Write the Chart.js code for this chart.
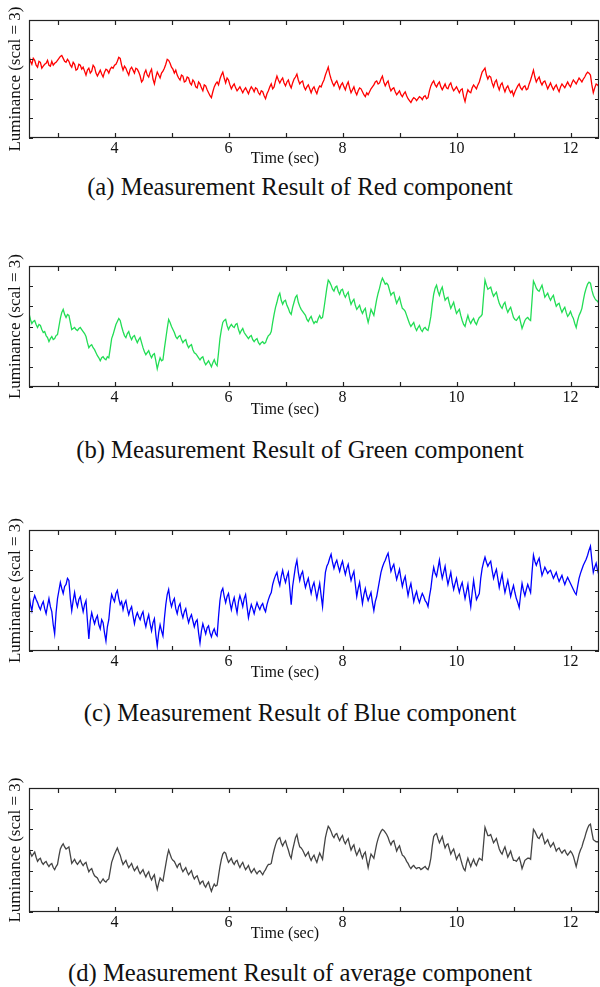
<!DOCTYPE html>
<html>
<head>
<meta charset="utf-8">
<script src="https://cdn.jsdelivr.net/npm/chart.js@4.4.1/dist/chart.umd.min.js"></script>
<style>
  html, body { margin: 0; padding: 0; background: #fff; }
  #page { position: relative; width: 600px; height: 987px; overflow: hidden; }
  canvas { position: absolute; left: 0; }
  .caption {
    position: absolute; left: 0; width: 600px; text-align: center;
    font-family: "Liberation Serif", "DejaVu Serif", serif; font-size: 24.7px;
    line-height: 28px; color: #111; white-space: nowrap;
  }
  .xtitle {
    position: absolute; left: 185px; width: 200px; text-align: center;
    font-family: "Liberation Serif", "DejaVu Serif", serif; font-size: 16px;
    line-height: 20px; color: #111;
  }
</style>
</head>
<body>
<div id="page"></div>
<script>
// time axis: 2.5 s .. 12.5 s, one sample every 0.025 s
const tStart = 2.5;
const tStep = 0.025;
const xTickValues = [3, 4, 5, 6, 7, 8, 9, 10, 11, 12];
const yTickValues = [0, 1, 2, 3, 4, 5, 6];

// luminance (axis units 0..6), one row = 0.5 s
const red = [4.2,
  3.9, 3.75, 4.05, 3.95, 3.7, 3.6, 3.9, 3.85, 3.55, 3.65, 3.75, 3.8, 3.95, 3.7, 3.65, 3.9, 3.7, 3.8, 3.85, 3.95,
  4.05, 4.15, 4.2, 4.05, 3.9, 3.85, 4.0, 3.9, 3.7, 3.6, 3.85, 3.75, 3.45, 3.5, 3.75, 3.7, 3.5, 3.6, 3.4, 3.2,
  3.45, 3.55, 3.3, 3.4, 3.7, 3.6, 3.3, 3.15, 3.3, 3.45, 3.25, 3.1, 3.35, 3.5, 3.45, 3.3, 3.5, 3.6, 3.55, 3.7,
  3.75, 3.9, 4.1, 4.05, 3.7, 3.45, 3.65, 3.55, 3.35, 3.2, 3.5, 3.6, 3.45, 3.3, 3.55, 3.5, 3.35, 3.15, 2.85, 2.95,
  3.3, 3.45, 3.2, 3.1, 3.35, 3.5, 3.0, 2.75, 3.1, 3.35, 3.2, 3.05, 3.3, 3.4, 3.55, 3.75, 4.0, 3.95, 3.8, 3.6,
  3.5, 3.3, 3.45, 3.2, 3.05, 2.95, 3.2, 3.15, 2.85, 2.9, 3.1, 3.05, 2.8, 2.7, 2.95, 2.85, 2.6, 2.55, 2.85, 2.75,
  2.55, 2.4, 2.7, 2.65, 2.45, 2.3, 2.15, 2.05, 2.35, 2.6, 2.75, 2.85, 2.7, 3.0, 3.2, 3.35, 3.05, 2.8, 3.05, 2.95,
  2.7, 2.5, 2.65, 2.75, 2.55, 2.4, 2.5, 2.6, 2.45, 2.3, 2.45, 2.55, 2.4, 2.25, 2.45, 2.6, 2.5, 2.35, 2.55, 2.5,
  2.3, 2.2, 2.4, 2.35, 2.15, 2.0, 2.25, 2.4, 2.6, 2.75, 2.5, 2.6, 2.9, 3.15, 2.95, 2.8, 2.95, 3.05, 2.8, 2.65,
  2.85, 2.95, 2.7, 2.55, 2.8, 3.0, 3.1, 3.25, 2.95, 2.75, 2.85, 2.9, 2.6, 2.45, 2.6, 2.7, 2.5, 2.3, 2.5, 2.6,
  2.4, 2.25, 2.5, 2.65, 2.6, 2.8, 2.95, 3.2, 3.4, 3.6, 3.25, 3.0, 2.8, 2.65, 2.8, 2.9, 2.7, 2.5, 2.7, 2.8,
  2.6, 2.45, 2.7, 2.85, 2.55, 2.3, 2.45, 2.6, 2.35, 2.2, 2.4, 2.55, 2.5, 2.35, 2.2, 2.1, 2.3, 2.2, 2.35, 2.5,
  2.6, 2.7, 2.85, 2.9, 2.75, 2.8, 3.0, 3.15, 2.85, 2.65, 2.8, 2.9, 2.6, 2.4, 2.5, 2.55, 2.35, 2.2, 2.3, 2.4,
  2.2, 2.1, 2.25, 2.35, 2.15, 2.0, 1.9, 1.8, 1.95, 2.05, 2.0, 1.9, 2.0, 2.1, 2.05, 1.95, 2.1, 2.15, 2.0, 2.05,
  2.4, 2.65, 2.8, 2.9, 2.7, 2.6, 2.75, 2.85, 2.6, 2.45, 2.6, 2.75, 2.55, 2.5, 2.7, 2.8, 2.55, 2.4, 2.5, 2.6,
  2.45, 2.3, 2.45, 2.5, 2.1, 1.85, 2.2, 2.45, 2.35, 2.3, 2.55, 2.7, 2.6, 2.5, 2.7, 2.85, 3.1, 3.35, 3.45, 3.55,
  3.2, 3.0, 3.15, 3.1, 2.8, 2.6, 2.85, 2.95, 2.65, 2.45, 2.7, 2.8, 2.55, 2.35, 2.55, 2.65, 2.45, 2.3, 2.4, 2.15,
  2.35, 2.5, 2.65, 2.75, 2.55, 2.45, 2.6, 2.65, 2.45, 2.5, 2.75, 2.95, 3.2, 3.45, 3.1, 2.85, 3.0, 3.1, 2.85, 2.7,
  2.85, 2.9, 2.7, 2.5, 2.65, 2.8, 2.6, 2.45, 2.6, 2.7, 2.5, 2.35, 2.6, 2.75, 2.65, 2.55, 2.7, 2.85, 2.7, 2.6,
  2.8, 2.95, 2.85, 2.75, 2.9, 3.05, 2.95, 2.85, 3.0, 3.1, 3.25, 3.35, 3.3, 3.2, 2.7, 2.3, 2.55, 2.75, 2.7, 2.6];

const green = [3.65,
  3.35, 3.15, 3.25, 3.3, 3.1, 2.95, 3.1, 3.05, 2.85, 2.7, 2.75, 2.55, 2.45, 2.25, 2.4, 2.5, 2.35, 2.4, 2.55, 2.6,
  3.0, 3.4, 3.7, 3.85, 3.6, 3.45, 3.6, 3.55, 3.2, 2.85, 2.9, 2.95, 2.85, 2.8, 2.9, 2.95, 2.85, 2.75, 2.65, 2.5,
  2.2, 1.95, 2.05, 2.1, 1.95, 1.85, 1.7, 1.55, 1.45, 1.3, 1.45, 1.5, 1.4, 1.35, 1.5, 1.45, 1.9, 2.4, 2.6, 2.85,
  3.1, 3.25, 3.4, 3.3, 3.0, 2.75, 2.55, 2.45, 2.65, 2.75, 2.5, 2.35, 2.5, 2.55, 2.35, 2.2, 2.35, 2.45, 2.2, 1.95,
  1.75, 1.6, 1.7, 1.8, 1.6, 1.45, 1.6, 1.65, 1.3, 0.9, 1.2, 1.45, 1.3, 1.35, 1.9, 2.4, 2.9, 3.35, 3.2, 3.0,
  2.85, 2.7, 2.5, 2.4, 2.5, 2.55, 2.35, 2.2, 2.3, 2.35, 2.1, 1.95, 2.05, 2.1, 1.85, 1.7, 1.65, 1.55, 1.45, 1.35,
  1.45, 1.5, 1.25, 1.1, 1.2, 1.3, 1.15, 1.0, 1.2, 1.35, 1.15, 1.05, 1.7, 2.4, 2.85, 3.2, 3.3, 3.35, 3.05, 2.85,
  3.0, 3.1, 3.0, 2.95, 3.1, 3.15, 2.85, 2.65, 2.8, 2.9, 2.7, 2.6, 2.5, 2.4, 2.5, 2.55, 2.35, 2.25, 2.35, 2.4,
  2.2, 2.1, 2.2, 2.25, 2.15, 2.2, 2.4, 2.55, 2.6, 2.75, 3.2, 3.6, 3.95, 4.2, 4.5, 4.65, 4.3, 4.1, 4.25, 4.3,
  4.05, 3.9, 3.7, 3.6, 3.95, 4.2, 4.45, 4.55, 4.2, 4.0, 3.85, 3.75, 3.65, 3.55, 3.35, 3.25, 3.4, 3.5, 3.3, 3.15,
  3.25, 3.2, 3.4, 3.55, 3.4, 3.45, 3.9, 4.4, 4.9, 5.3, 5.2, 5.05, 4.85, 4.75, 4.95, 5.0, 4.75, 4.6, 4.8, 4.85,
  4.6, 4.45, 4.6, 4.7, 4.35, 4.1, 4.25, 4.35, 4.05, 3.85, 3.95, 4.05, 3.8, 3.65, 3.8, 3.9, 3.5, 3.2, 3.5, 3.85,
  3.7, 3.55, 3.95, 4.35, 4.65, 4.9, 5.2, 5.4, 5.25, 5.1, 5.15, 5.05, 4.8, 4.55, 4.65, 4.7, 4.4, 4.15, 4.3, 4.45,
  4.15, 3.9, 3.85, 3.75, 3.55, 3.35, 3.15, 3.0, 3.1, 3.2, 2.95, 2.8, 2.95, 3.05, 2.85, 2.75, 2.9, 2.95, 2.85, 2.8,
  3.1, 3.5, 4.1, 4.6, 4.9, 5.05, 4.75, 4.55, 4.8, 4.95, 4.6, 4.3, 4.4, 4.45, 4.15, 3.9, 4.05, 4.2, 3.9, 3.65,
  3.75, 3.85, 3.55, 3.3, 3.1, 3.0, 3.3, 3.55, 3.3, 3.15, 3.3, 3.4, 3.2, 3.1, 3.3, 3.45, 3.5, 3.6, 4.5, 5.3,
  5.05, 4.85, 4.9, 4.95, 4.7, 4.5, 4.6, 4.7, 4.4, 4.15, 4.0, 3.9, 4.1, 4.2, 3.9, 3.7, 3.85, 3.95, 3.7, 3.45,
  3.35, 3.3, 3.4, 3.5, 3.2, 2.9, 3.1, 3.3, 3.4, 3.45, 3.35, 3.3, 4.3, 5.25, 5.1, 4.9, 4.8, 4.75, 4.9, 5.05,
  4.75, 4.45, 4.55, 4.65, 4.45, 4.3, 4.45, 4.55, 4.25, 4.0, 4.1, 4.15, 3.9, 3.7, 3.85, 3.95, 3.7, 3.5, 3.6, 3.75,
  3.55, 3.4, 3.15, 2.95, 3.3, 3.55, 3.7, 3.9, 4.3, 4.65, 4.9, 5.1, 5.2, 5.15, 4.8, 4.55, 4.4, 4.3, 4.25, 4.15];

const blue = [2.8,
  2.3, 2.0, 2.5, 2.75, 2.55, 2.4, 2.2, 2.05, 2.3, 2.45, 2.1, 1.85, 2.25, 2.6, 2.2, 1.95, 1.3, 0.85, 1.9, 2.6,
  3.0, 3.4, 3.1, 2.85, 3.2, 3.3, 3.6, 3.5, 2.6, 2.0, 2.5, 2.9, 2.45, 2.2, 2.55, 2.7, 2.3, 1.95, 2.3, 2.5,
  1.5, 0.6, 1.5, 1.9, 1.6, 1.35, 1.6, 1.75, 1.3, 1.1, 1.55, 1.4, 0.9, 0.5, 1.2, 1.55, 2.3, 2.8, 2.6, 2.45,
  2.85, 3.0, 2.6, 2.3, 2.45, 2.05, 2.35, 2.5, 2.1, 1.8, 2.05, 2.2, 1.75, 1.35, 1.7, 1.9, 1.7, 1.55, 1.8, 1.95,
  1.5, 1.2, 1.55, 1.8, 1.35, 1.0, 1.4, 1.6, 0.8, 0.25, 0.9, 1.3, 1.0, 0.75, 1.6, 2.3, 2.8, 3.05, 2.5, 2.2,
  2.45, 2.6, 2.1, 1.85, 2.2, 2.35, 1.9, 1.65, 1.95, 2.1, 1.7, 1.4, 1.65, 1.8, 1.5, 1.2, 1.45, 1.55, 0.9, 0.4,
  1.0, 1.35, 1.1, 0.85, 1.15, 1.25, 0.9, 0.7, 0.95, 1.1, 0.85, 0.75, 1.7, 2.5, 2.95, 3.1, 2.7, 2.4, 2.7, 2.85,
  2.4, 2.05, 2.4, 2.65, 2.25, 1.9, 2.45, 2.75, 2.5, 2.2, 2.6, 2.8, 2.2, 1.65, 2.0, 2.3, 2.1, 1.85, 2.15, 2.4,
  2.2, 2.05, 2.25, 2.35, 2.1, 1.95, 2.3, 2.55, 2.75, 2.9, 3.3, 3.55, 3.75, 3.9, 3.5, 3.25, 3.7, 4.0, 3.65, 3.4,
  3.7, 3.9, 3.1, 2.3, 3.2, 3.7, 4.2, 4.5, 3.9, 3.5, 3.8, 3.95, 3.5, 3.15, 3.4, 3.6, 3.2, 2.85, 3.2, 3.4,
  3.0, 2.6, 3.0, 3.35, 2.75, 2.2, 3.1, 3.9, 4.2, 4.35, 4.6, 4.8, 4.4, 4.1, 4.35, 4.5, 4.2, 3.95, 4.25, 4.45,
  4.1, 3.8, 4.1, 4.3, 3.85, 3.5, 3.75, 3.95, 3.3, 2.7, 3.1, 3.4, 2.85, 2.35, 2.8, 3.1, 2.75, 2.5, 2.7, 2.9,
  2.4, 2.0, 2.45, 2.7, 3.1, 3.5, 3.9, 4.15, 4.35, 4.5, 4.7, 4.85, 4.4, 3.95, 4.15, 4.3, 3.9, 3.55, 3.8, 4.05,
  3.6, 3.2, 3.5, 3.7, 3.2, 2.75, 3.1, 3.35, 2.9, 2.45, 2.75, 2.95, 2.6, 2.4, 2.65, 2.85, 2.7, 2.5, 2.4, 2.2,
  2.7, 3.1, 3.7, 4.15, 3.85, 3.7, 4.1, 4.5, 4.0, 3.6, 3.9, 4.2, 3.7, 3.3, 3.6, 3.9, 3.4, 3.05, 3.35, 3.6,
  3.2, 2.9, 3.2, 3.4, 3.0, 2.6, 2.95, 3.3, 2.7, 2.2, 2.9, 3.5, 3.0, 2.55, 2.7, 2.85, 3.6, 4.1, 4.4, 4.65,
  4.4, 4.2, 4.35, 4.45, 4.0, 3.6, 3.85, 4.05, 3.6, 3.15, 3.5, 3.8, 3.3, 2.9, 3.2, 3.5, 3.1, 2.7, 3.0, 3.25,
  2.9, 2.6, 2.4, 2.15, 2.8, 3.35, 3.0, 2.75, 3.05, 3.3, 3.1, 2.9, 3.9, 4.75, 4.45, 4.25, 4.45, 4.6, 4.15, 3.75,
  3.95, 4.15, 4.0, 3.85, 3.95, 4.0, 3.8, 3.6, 3.75, 3.9, 3.65, 3.45, 3.6, 3.75, 3.5, 3.3, 3.5, 3.65, 3.5, 3.35,
  3.2, 3.05, 2.9, 2.8, 3.2, 3.6, 3.85, 4.05, 4.25, 4.4, 4.55, 4.75, 5.0, 5.2, 4.5, 3.9, 4.15, 4.35, 4.0, 3.75];

const average = [3.1,
  2.85, 2.7, 2.8, 2.9, 2.65, 2.45, 2.55, 2.6, 2.4, 2.3, 2.4, 2.45, 2.3, 2.2, 2.3, 2.35, 2.15, 2.05, 2.2, 2.3,
  2.7, 3.05, 3.2, 3.3, 3.15, 3.05, 3.1, 3.15, 2.75, 2.35, 2.45, 2.55, 2.4, 2.3, 2.4, 2.5, 2.35, 2.25, 2.35, 2.4,
  2.15, 1.95, 2.05, 2.1, 1.9, 1.75, 1.7, 1.65, 1.5, 1.4, 1.5, 1.6, 1.5, 1.45, 1.55, 1.6, 2.0, 2.4, 2.6, 2.8,
  2.95, 3.1, 2.9, 2.75, 2.5, 2.3, 2.4, 2.5, 2.3, 2.15, 2.25, 2.35, 2.15, 2.0, 2.1, 2.2, 2.0, 1.85, 1.95, 2.05,
  1.85, 1.7, 1.85, 1.95, 1.7, 1.55, 1.7, 1.8, 1.4, 1.1, 1.4, 1.65, 1.55, 1.5, 1.9, 2.3, 2.7, 3.0, 2.8, 2.6,
  2.5, 2.45, 2.3, 2.15, 2.3, 2.35, 2.1, 1.95, 2.05, 2.15, 1.95, 1.8, 1.9, 2.0, 1.75, 1.6, 1.7, 1.75, 1.55, 1.35,
  1.45, 1.5, 1.3, 1.2, 1.35, 1.45, 1.2, 1.0, 1.2, 1.35, 1.25, 1.3, 1.75, 2.2, 2.55, 2.8, 2.9, 2.85, 2.6, 2.4,
  2.5, 2.6, 2.4, 2.3, 2.45, 2.5, 2.3, 2.15, 2.3, 2.4, 2.2, 2.05, 2.15, 2.25, 2.05, 1.9, 2.0, 2.1, 1.95, 1.85,
  1.95, 2.0, 1.9, 1.8, 1.95, 2.05, 2.2, 2.3, 2.3, 2.35, 2.7, 3.0, 3.25, 3.45, 3.55, 3.6, 3.35, 3.2, 3.35, 3.45,
  3.2, 3.0, 2.75, 2.6, 3.0, 3.3, 3.6, 3.75, 3.4, 3.15, 3.1, 3.0, 2.85, 2.7, 2.8, 2.9, 2.65, 2.5, 2.65, 2.75,
  2.55, 2.4, 2.65, 2.85, 2.7, 2.55, 3.1, 3.6, 3.9, 4.15, 4.05, 3.9, 3.7, 3.6, 3.75, 3.8, 3.6, 3.45, 3.6, 3.7,
  3.45, 3.3, 3.45, 3.55, 3.25, 3.0, 3.15, 3.25, 2.95, 2.75, 2.9, 3.05, 2.8, 2.6, 2.8, 2.9, 2.5, 2.15, 2.5, 2.8,
  2.7, 2.6, 2.95, 3.3, 3.55, 3.75, 3.9, 4.0, 3.95, 3.85, 3.75, 3.6, 3.4, 3.25, 3.4, 3.45, 3.2, 2.95, 3.1, 3.2,
  2.95, 2.75, 2.7, 2.6, 2.45, 2.35, 2.2, 2.1, 2.2, 2.25, 2.15, 2.1, 2.15, 2.15, 2.05, 2.1, 2.15, 2.2, 2.1, 2.05,
  2.25, 2.6, 3.2, 3.65, 3.75, 3.8, 3.55, 3.35, 3.5, 3.65, 3.35, 3.1, 3.25, 3.3, 3.05, 2.8, 2.95, 3.05, 2.8, 2.55,
  2.7, 2.8, 2.55, 2.3, 2.1, 2.0, 2.35, 2.6, 2.4, 2.2, 2.4, 2.55, 2.35, 2.25, 2.45, 2.6, 2.55, 2.5, 3.3, 4.1,
  3.9, 3.7, 3.7, 3.75, 3.55, 3.35, 3.45, 3.55, 3.3, 3.05, 2.9, 2.8, 3.0, 3.15, 2.9, 2.65, 2.8, 2.95, 2.7, 2.5,
  2.5, 2.45, 2.55, 2.65, 2.4, 2.1, 2.3, 2.5, 2.55, 2.6, 2.6, 2.55, 3.3, 4.0, 3.9, 3.75, 3.6, 3.55, 3.7, 3.8,
  3.55, 3.3, 3.4, 3.5, 3.3, 3.15, 3.25, 3.35, 3.15, 2.95, 3.05, 3.1, 2.95, 2.85, 2.95, 3.0, 2.85, 2.75, 2.85, 2.95,
  2.85, 2.7, 2.45, 2.2, 2.5, 2.8, 3.0, 3.15, 3.4, 3.6, 3.85, 4.05, 4.2, 4.25, 3.85, 3.5, 3.45, 3.4, 3.4, 3.35];

const captions = [
  '(a) Measurement Result of Red component',
  '(b) Measurement Result of Green component',
  '(c) Measurement Result of Blue component',
  '(d) Measurement Result of average component'
];
const yTitle = 'Luminance (scal = 3)';
const xTitle = 'Time (sec)';

const serif = '"Liberation Serif", "DejaVu Serif", serif';

[red, green, blue, average].forEach((s, i) => {
  if (s.length !== 401) throw new Error('series ' + i + ' has ' + s.length + ' values');
});

// inward tick marks and the box round the plot
const frameTicks = {
  id: 'frameTicks',
  afterDatasetsDraw(chart) {
    const { ctx, chartArea: a, scales: { x, y } } = chart;
    ctx.save();
    ctx.strokeStyle = '#222';
    ctx.lineWidth = 1.2;
    ctx.strokeRect(a.left + 0.5, a.top + 0.5, a.right - a.left - 1, a.bottom - a.top - 1);
    ctx.beginPath();
    x.ticks.forEach(t => {
      const px = Math.round(x.getPixelForValue(t.value)) + 0.5;
      ctx.moveTo(px, a.bottom); ctx.lineTo(px, a.bottom - 5);
      ctx.moveTo(px, a.top); ctx.lineTo(px, a.top + 5);
    });
    y.ticks.forEach(t => {
      const py = Math.round(y.getPixelForValue(t.value)) + 0.5;
      ctx.moveTo(a.left, py); ctx.lineTo(a.left + 4, py);
      ctx.moveTo(a.right, py); ctx.lineTo(a.right - 4, py);
    });
    ctx.stroke();
    ctx.restore();
  }
};

const page = document.getElementById('page');

function makePanel(values, color, plotTop, plotBottom, timeY, captionY, caption) {
  const padTop = 20;
  const xAxisH = 30;
  const canvas = document.createElement('canvas');
  canvas.width = 600;
  canvas.height = (plotBottom - plotTop) + padTop + xAxisH;
  canvas.style.top = (plotTop - padTop) + 'px';
  page.appendChild(canvas);

  const points = values.map((v, i) => ({ x: +(tStart + i * tStep).toFixed(3), y: v }));

  new Chart(canvas.getContext('2d'), {
    type: 'line',
    data: {
      datasets: [{
        data: points,
        borderColor: color,
        borderWidth: 1.3,
        pointRadius: 0,
        tension: 0,
        fill: false
      }]
    },
    options: {
      responsive: false,
      animation: false,
      events: [],
      layout: { padding: { top: padTop, right: 1, left: 0, bottom: 0 } },
      plugins: { legend: { display: false }, tooltip: { enabled: false } },
      scales: {
        x: {
          type: 'linear',
          min: 2.5,
          max: 12.5,
          grid: { display: false, drawTicks: false },
          border: { display: false },
          afterBuildTicks: s => { s.ticks = xTickValues.map(v => ({ value: v })); },
          ticks: {
            autoSkip: false,
            maxRotation: 0,
            padding: 1,
            color: '#111',
            font: { family: serif, size: 16 },
            callback: v => (v % 2 === 0 ? String(v) : '')
          },
          afterFit: s => { s.height = xAxisH; }
        },
        y: {
          min: 0,
          max: 6,
          grid: { display: false, drawTicks: false },
          border: { display: false },
          afterBuildTicks: s => { s.ticks = yTickValues.map(v => ({ value: v })); },
          ticks: { display: false },
          title: {
            display: true,
            text: yTitle,
            color: '#111',
            font: { family: serif, size: 17 },
            padding: { top: 5, bottom: 0 }
          },
          afterFit: s => { s.width = 29; }
        }
      }
    },
    plugins: [frameTicks]
  });

  const t = document.createElement('div');
  t.className = 'xtitle';
  t.style.top = (timeY - 10) + 'px';
  t.textContent = xTitle;
  page.appendChild(t);

  const c = document.createElement('div');
  c.className = 'caption';
  c.style.top = (captionY - 14) + 'px';
  c.textContent = caption;
  page.appendChild(c);
}

makePanel(red, '#ff0000', 20, 138, 158, 187, captions[0]);
makePanel(green, '#22dd55', 266, 387, 409, 450, captions[1]);
makePanel(blue, '#0000ff', 530, 651, 672, 713, captions[2]);
makePanel(average, '#444444', 788, 912, 933, 973, captions[3]);
</script>
</body>
</html>
